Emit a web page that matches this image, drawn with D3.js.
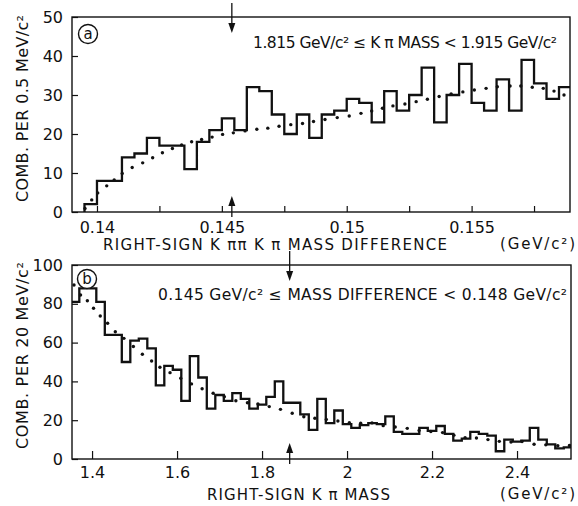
<!DOCTYPE html>
<html lang="en">
<head>
<meta charset="UTF-8" />
<title>Right-sign K pi spectra</title>
<script src="https://d3js.org/d3.v7.min.js"></script>
<style>
  body { margin: 0; background: white; }
  svg { display: block; background: white; font-family: "DejaVu Sans", sans-serif; }
  .frame { fill: none; stroke: #111; stroke-width: 1.4px; }
  .hist { fill: none; stroke: #111; stroke-width: 2.3px; stroke-linejoin: miter; }
  .fit circle { fill: #111; }
  .axis text { font-size: 16px; fill: #111; font-family: "DejaVu Sans", sans-serif; }
  .axis line { stroke: #111; stroke-width: 1.2px; }
  .axis path { display: none; }
  .label { fill: #111; }
  .arrow { stroke: #111; stroke-width: 1.3px; }
</style>
</head>
<body>
<svg width="578" height="506"></svg>
<script>
// ---- panel (a): mass difference, 0.5 MeV bins ----
const aBinStart = 0.1395, aBinWidth = 0.0005;
const aCounts = [2, 8, 8, 14, 15, 19, 17, 17, 11, 18, 21, 24, 21, 32, 31, 25, 20, 25, 19, 25,
  26, 29, 28, 23, 31, 26, 30, 37, 23, 30, 38, 28, 26, 34, 26, 39, 33, 29, 32];
const aFitX = [0.13952, 0.13979, 0.14003, 0.14039, 0.14069, 0.14101, 0.14141, 0.14183, 0.14223, 0.14262,
  0.14302, 0.14339, 0.14379, 0.14419, 0.14461, 0.14503, 0.14546, 0.14593, 0.14640, 0.14684,
  0.14729, 0.14776, 0.14823, 0.14867, 0.14913, 0.14962, 0.15010, 0.15057, 0.15100, 0.15143,
  0.15185, 0.15233, 0.15278, 0.15323, 0.15370, 0.15418, 0.15465, 0.15511, 0.15558, 0.15603,
  0.15654, 0.15697, 0.15743, 0.15787, 0.15830, 0.15870];
const aFitY = [0.9, 3.1, 4.9, 6.7, 8.2, 9.9, 11.4, 12.6, 13.9, 15.2,
  16.3, 17.2, 18.0, 18.6, 19.2, 19.9, 20.3, 20.8, 21.2, 21.5,
  22.0, 22.4, 22.7, 23.2, 23.7, 24.2, 24.6, 25.3, 25.9, 26.6,
  27.2, 27.7, 28.3, 28.9, 29.6, 30.3, 30.8, 31.3, 31.7, 32.1,
  32.3, 32.3, 32.0, 31.7, 31.0, 30.0];
const aXTicks = [0.14, 0.145, 0.15, 0.155];
const aXTickLabels = ["0.14", "0.145", "0.15", "0.155"];
const aXMinor = [0.1425, 0.1475, 0.1525, 0.1575];
const aYTicks = [0, 10, 20, 30, 40, 50];
const aArrow = 0.1454;

// ---- panel (b): K pi mass, 20 MeV bins ----
const bBinStart = 1.35, bBinWidth = 0.02;
const bCounts = [81, 88, 88, 81, 64, 64, 50, 61, 62, 57, 38, 48, 46, 30, 53, 42, 26, 33, 30, 34,
  31, 26, 28, 32, 40, 29, 29, 23, 15, 31, 18.5, 25, 18, 16, 17.5, 18.5, 18, 22, 14, 13,
  13, 16, 14.5, 17, 13, 9.5, 10.5, 14, 13, 12, 4, 10, 9, 9.5, 16, 10, 7.5, 5.5, 6];
const bFitX = [1.3575, 1.3729, 1.3889, 1.4035, 1.4193, 1.4366, 1.4547, 1.4750, 1.4972, 1.5184, 1.5401,
  1.5597, 1.5835, 1.6087, 1.6340, 1.6590, 1.6849, 1.7113, 1.7384, 1.7656, 1.7903,
  1.8170, 1.8434, 1.8710, 1.8983, 1.9243, 1.9512, 1.9785, 2.0054, 2.0321, 2.0587,
  2.0851, 2.1134, 2.1417, 2.1696, 2.1972, 2.2248, 2.2514, 2.2778, 2.3045, 2.3316,
  2.3583, 2.3858, 2.4118, 2.4401, 2.4677, 2.4960, 2.5233];
const bFitY = [89.7, 84.5, 81.6, 77.7, 73.7, 70, 65.6, 62.2, 58, 54, 50.5,
  47.3, 44.5, 41.6, 38.7, 36.2, 33.9, 32.1, 30, 29, 28.4,
  27, 25.6, 23.6, 21.8, 21, 20.4, 19.6, 18.7, 18.4, 18.6,
  17.2, 16.5, 15.8, 14.7, 14.2, 13.6, 12.3, 11, 10.8, 10,
  9.1, 8.7, 9, 7.6, 7.3, 6.8, 7];
const bXTicks = [1.4, 1.6, 1.8, 2.0, 2.2, 2.4];
const bXTickLabels = ["1.4", "1.6", "1.8", "2", "2.2", "2.4"];
const bYTicks = [0, 20, 40, 60, 80, 100];
const bArrow = 1.865;

const svg = d3.select("svg");

function drawPanel(p) {
  const x = d3.scaleLinear().domain(p.xDomain).range([p.left, p.right]);
  const y = d3.scaleLinear().domain(p.yDomain).range([p.bottom, p.top]);
  const g = svg.append("g");

  g.append("clipPath").attr("id", "clip-" + p.id)
    .append("rect")
    .attr("x", p.left).attr("y", p.top)
    .attr("width", p.right - p.left).attr("height", p.bottom - p.top);

  // histogram outline
  const pts = [[p.binStart, 0]];
  p.counts.forEach((c, i) => {
    const x0 = p.binStart + i * p.binWidth;
    pts.push([x0, c], [x0 + p.binWidth, c]);
  });
  const line = d3.line().x(d => x(d[0])).y(d => y(d[1]));
  g.append("path")
    .attr("class", "hist")
    .attr("clip-path", `url(#clip-${p.id})`)
    .attr("d", line(pts));

  // dotted fit
  g.append("g").attr("class", "fit")
    .attr("clip-path", `url(#clip-${p.id})`)
    .selectAll("circle")
    .data(p.fitX.map((v, i) => [v, p.fitY[i]]))
    .enter().append("circle")
    .attr("cx", d => x(d[0]))
    .attr("cy", d => y(d[1]))
    .attr("r", 1.7);

  // axes, ticks pointing inward
  g.append("g").attr("class", "axis")
    .attr("transform", `translate(${p.left},0)`)
    .call(d3.axisLeft(y).tickValues(p.yTicks).tickSizeInner(-6).tickSizeOuter(0).tickPadding(9));
  g.append("g").attr("class", "axis")
    .attr("transform", `translate(0,${p.bottom})`)
    .call(d3.axisBottom(x).tickValues(p.xTicks).tickSizeInner(-p.tickLen).tickSizeOuter(0)
      .tickPadding(p.xPad).tickFormat((d, i) => p.xTickLabels[i]));
  if (p.xMinor) {
    g.append("g").attr("class", "axis")
      .attr("transform", `translate(0,${p.bottom})`)
      .call(d3.axisBottom(x).tickValues(p.xMinor).tickSizeInner(-p.tickLen).tickSizeOuter(0).tickFormat(""));
  }

  g.append("rect").attr("class", "frame")
    .attr("x", p.left).attr("y", p.top)
    .attr("width", p.right - p.left).attr("height", p.bottom - p.top);

  // selection arrows
  const ax = x(p.arrow);
  arrow(g, ax, p.top - 14, p.top + 16);
  arrow(g, ax, p.bottom + 5, p.bottom - 16);

  // panel tag
  g.append("circle").attr("cx", p.tag[0]).attr("cy", p.tag[1]).attr("r", 9.5)
    .attr("fill", "white").attr("stroke", "#111").attr("stroke-width", 1.4);
  g.append("text").attr("class", "label")
    .attr("x", p.tag[0]).attr("y", p.tag[1] + 5)
    .attr("text-anchor", "middle").attr("font-size", 15)
    .text(p.tagText);

  // y title
  g.append("text").attr("class", "label")
    .attr("transform", `translate(28,${p.bottom - 10}) rotate(-90)`)
    .attr("font-size", 16)
    .attr("textLength", 187).attr("lengthAdjust", "spacing")
    .text(p.yTitle);

  // x title and unit
  g.append("text").attr("class", "label")
    .attr("x", p.xTitleX).attr("y", p.xTitleY)
    .attr("font-size", 15)
    .attr("textLength", p.xTitleW).attr("lengthAdjust", "spacing")
    .text(p.xTitle);
  g.append("text").attr("class", "label")
    .attr("x", 500).attr("y", p.xTitleY - 1)
    .attr("font-size", 15)
    .attr("textLength", 75).attr("lengthAdjust", "spacing")
    .text("(GeV/c²)");

  // selection note
  g.append("text").attr("class", "label")
    .attr("x", p.noteX).attr("y", p.noteY)
    .attr("font-size", 15.5)
    .attr("textLength", p.noteW).attr("lengthAdjust", "spacing")
    .text(p.note);
}

function arrow(g, xPos, from, tip) {
  const dir = tip > from ? 1 : -1;
  g.append("line").attr("class", "arrow")
    .attr("x1", xPos).attr("x2", xPos)
    .attr("y1", from).attr("y2", tip - dir * 6);
  g.append("path")
    .attr("fill", "#111")
    .attr("d", `M${xPos},${tip} L${xPos - 3.5},${tip - dir * 10} L${xPos + 3.5},${tip - dir * 10} Z`);
}

drawPanel({
  id: "a", left: 72, right: 570, top: 17, bottom: 212,
  xDomain: [0.139, 0.15894], yDomain: [0, 50],
  binStart: aBinStart, binWidth: aBinWidth, counts: aCounts,
  fitX: aFitX, fitY: aFitY,
  xTicks: aXTicks, xTickLabels: aXTickLabels, xMinor: aXMinor, yTicks: aYTicks,
  tickLen: 6, xPad: 10, arrow: aArrow,
  tag: [88, 34], tagText: "a",
  yTitle: "COMB. PER 0.5 MeV/c²",
  xTitle: "RIGHT-SIGN K ππ K π MASS DIFFERENCE", xTitleX: 103, xTitleY: 250, xTitleW: 344,
  note: "1.815 GeV/c² ≤ K π MASS < 1.915 GeV/c²", noteX: 253, noteY: 48, noteW: 304
});

drawPanel({
  id: "b", left: 72, right: 571, top: 265, bottom: 459,
  xDomain: [1.3528, 2.527], yDomain: [0, 100],
  binStart: bBinStart, binWidth: bBinWidth, counts: bCounts,
  fitX: bFitX, fitY: bFitY,
  xTicks: bXTicks, xTickLabels: bXTickLabels, yTicks: bYTicks,
  tickLen: 8, xPad: 8, arrow: bArrow,
  tag: [87, 279], tagText: "b",
  yTitle: "COMB. PER 20 MeV/c²",
  xTitle: "RIGHT-SIGN K π MASS", xTitleX: 207, xTitleY: 500, xTitleW: 183,
  note: "0.145 GeV/c² ≤ MASS DIFFERENCE < 0.148 GeV/c²", noteX: 158, noteY: 300, noteW: 409
});
</script>
</body>
</html>
